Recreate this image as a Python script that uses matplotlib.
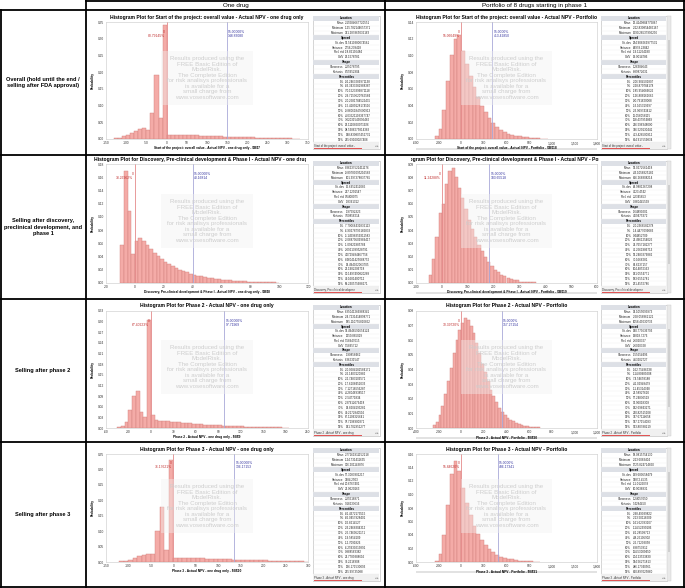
import numpy as np
import matplotlib.pyplot as plt
from matplotlib.patches import Rectangle
from matplotlib.ticker import FuncFormatter, FixedLocator

W, H = 685, 588
plt.rcParams['font.family'] = ['Liberation Sans', 'DejaVu Sans']

col_titles = ["One drug", "Portfolio of 8 drugs starting in phase 1"]
row_labels = ["Overall (hold until the end /\nselling after FDA approval)",
              "Selling after discovery,\npreclinical development, and\nphase 1",
              "Selling after phase 2",
              "Selling after phase 3"]

# ---- histogram data: first bin edge, bin width, probabilities ----
one_overall_start, one_overall_w = -130, 10
one_overall_p = [0.002, 0.004, 0.008, 0.012, 0.018, 0.024, 0.03, 0.033, 0.028, 0.077, 0.19, 0.062, 0.34,
                 0.012, 0.011, 0.011, 0.012, 0.012, 0.012, 0.011, 0.011, 0.01, 0.01, 0.009, 0.009, 0.008,
                 0.008, 0.007, 0.007, 0.006, 0.006, 0.006, 0.005, 0.005, 0.005, 0.004, 0.004, 0.004, 0.003,
                 0.003, 0.003, 0.002, 0.002, 0.002, 0.001, 0.001]

one_disc_start, one_disc_w = -10, 2.5
one_disc_p = [0.058, 0.17, 0.109, 0.044, 0.064, 0.068, 0.064, 0.057, 0.051, 0.046, 0.041, 0.036, 0.032,
              0.028, 0.025, 0.022, 0.02, 0.018, 0.016, 0.014, 0.012, 0.011, 0.01, 0.009, 0.008, 0.007,
              0.006, 0.0055, 0.005, 0.0045, 0.004, 0.0035, 0.003, 0.003, 0.0025, 0.002, 0.002, 0.0018,
              0.0015, 0.0012, 0.001, 0.001, 0.0008, 0.0006]

one_ph2_start, one_ph2_w = -45, 5
one_ph2_p = [0.003, 0.006, 0.017, 0.05, 0.089, 0.105, 0.045, 0.03, 0.305, 0.037, 0.022, 0.02, 0.019,
             0.019, 0.018, 0.017, 0.016, 0.015, 0.014, 0.013, 0.012, 0.011, 0.01, 0.0095, 0.009, 0.0085,
             0.008, 0.0075, 0.007, 0.0065, 0.006, 0.0055, 0.005, 0.0045, 0.004, 0.0035, 0.003, 0.003,
             0.0025, 0.0025, 0.002, 0.002, 0.0015, 0.0015, 0.001, 0.001]

one_ph3_start, one_ph3_w = -120, 10
one_ph3_p = [0.002, 0.004, 0.008, 0.013, 0.018, 0.023, 0.027, 0.026, 0.10, 0.178, 0.04, 0.33,
             0.013, 0.012, 0.012, 0.013, 0.013, 0.012, 0.012, 0.011, 0.011, 0.01, 0.01, 0.009, 0.009,
             0.008, 0.008, 0.007, 0.007, 0.006, 0.006, 0.005, 0.005, 0.004, 0.004, 0.003, 0.003, 0.003,
             0.002, 0.002, 0.002, 0.001]

port_overall_start, port_overall_w = -350, 50
port_overall_p = [0.003, 0.012, 0.035, 0.07, 0.1, 0.12, 0.125, 0.105, 0.09, 0.075, 0.062, 0.05, 0.04,
                  0.032, 0.025, 0.019, 0.014, 0.011, 0.008, 0.006, 0.005, 0.004, 0.003, 0.002, 0.002,
                  0.001, 0.001, 0.001, 0.0005, 0.0005]

port_disc_start, port_disc_w = -50, 12.5
port_disc_p = [0.006, 0.018, 0.035, 0.053, 0.06, 0.075, 0.085, 0.087, 0.08, 0.072, 0.064, 0.056, 0.048,
               0.041, 0.035, 0.029, 0.024, 0.02, 0.016, 0.013, 0.01, 0.008, 0.006, 0.005, 0.004, 0.003,
               0.002, 0.002, 0.001, 0.001, 0.0008, 0.0006, 0.0005]

port_ph2_start, port_ph2_w = -250, 25
port_ph2_p = [0.002, 0.004, 0.009, 0.015, 0.023, 0.032, 0.041, 0.051, 0.06, 0.067, 0.072, 0.075, 0.074,
              0.07, 0.065, 0.058, 0.051, 0.044, 0.038, 0.032, 0.026, 0.022, 0.018, 0.014, 0.011, 0.009,
              0.007, 0.0057, 0.0045, 0.0035, 0.0028, 0.0022, 0.0017, 0.0013, 0.001, 0.0008, 0.0006, 0.0005]

port_ph3_start, port_ph3_w = -350, 50
port_ph3_p = [0.002, 0.012, 0.04, 0.085, 0.13, 0.15, 0.135, 0.11, 0.088, 0.069, 0.054, 0.042, 0.032,
              0.025, 0.019, 0.015, 0.011, 0.008, 0.006, 0.005, 0.004, 0.003, 0.002, 0.0015, 0.001, 0.001,
              0.0007, 0.0005]

# red marker at 0 (share below) and blue marker at the 95th percentile
red_pct = ["80.79145%", "38.26962%", "67.40223%", "76.17621%",
           "55.06649%", "11.24288%", "30.39720%", "55.84620%"]
blue_val = [148.8308, 40.16814, 97.71969, 136.17153, 413.4285, 183.65518, 357.27154, 486.17341]
blue_pct = ["95.00000%"] * 4 + ["95.0000%"] * 4

titles = ["Histogram Plot for Start of the project: overall value - Actual NPV - one drug only",
          "Histogram Plot for Discovery, Pre-clinical development & Phase I - Actual NPV - one drug only",
          "Histogram Plot for Phase 2 - Actual NPV - one drug only",
          "Histogram Plot for Phase 3 - Actual NPV - one drug only",
          "Histogram Plot for Start of the project: overall value - Actual NPV - Portfolio",
          "Histogram Plot for Discovery, Pre-clinical development & Phase I - Actual NPV - Portfolio",
          "Histogram Plot for Phase 2 - Actual NPV - Portfolio",
          "Histogram Plot for Phase 3 - Actual NPV - Portfolio"]
xlabels = [r"Start of the project: overall value - Actual NPV - one drug only - \$B\$7",
           r"Discovery, Pre-clinical development & Phase I - Actual NPV - one drug only - \$B\$8",
           r"Phase 2 - Actual NPV - one drug only - \$B\$9",
           r"Phase 3 - Actual NPV - one drug only - \$B\$10",
           r"Start of the project: overall value - Actual NPV - Portfolio - \$B\$18",
           r"Discovery, Pre-clinical development & Phase I - Actual NPV - Portfolio - \$B\$19",
           r"Phase 2 - Actual NPV - Portfolio - \$B\$20",
           r"Phase 3 - Actual NPV - Portfolio - \$B\$21"]
tab_names = ["Start of the project: overall value -", "Discovery, Pre-clinical developme",
             "Phase 2 - Actual NPV - one drug", "Phase 3 - Actual NPV - one drug",
             "Start of the project: overall value -", "Discovery, Pre-clinical developme",
             "Phase 2 - Actual NPV - Portfolio", "Phase 3 - Actual NPV - Portfolio"]

x_ticks = [np.arange(-150, 351, 50), np.arange(-20, 121, 20), np.arange(-60, 211, 30), np.arange(-150, 301, 50),
           np.arange(-600, 1801, 300), np.arange(-100, 601, 100), np.arange(-400, 1201, 200), np.arange(-600, 1801, 300)]
y_ticks = [np.arange(0, 0.351, 0.05), np.arange(0, 0.181, 0.02), np.arange(0, 0.331, 0.03), np.arange(0, 0.351, 0.05),
           np.arange(0, 0.141, 0.02), np.arange(0, 0.091, 0.01), np.arange(0, 0.081, 0.01), np.arange(0, 0.161, 0.02)]

# statistics tables
stat_sections = [("Location", ["Mean", "Minimum", "Maximum"]),
                 ("Spread", ["St. dev", "Variance", "Rel. std", "CofV"]),
                 ("Shape", ["Skewness", "Kurtosis"]),
                 ("Percentiles", ["1%", "5%", "10%", "20%", "30%", "40%", "50%", "60%", "70%", "80%", "90%", "95%", "99%"])]

stats_one_overall = ["2.15584667720551", "-125.782144657371", "321.287865036163",
                     "51.5410380074561", "2756.239418", "-18.86196484", "26.1578781",
                     "2.25078795", "8.55952904",
                     "-92.2463289971138", "-83.3433282988387", "-70.1523396871118", "-29.7153620765584",
                     "-20.2581784522435", "-15.4189128174516", "-9.86061847600913", "-4.03521103367747",
                     "3.02031543095482", "26.1110850071926", "98.5386275814383", "148.830807452731",
                     "245.69100027408"]
stats_one_disc = ["8.36237522411176", "-9.89780095216583", "101.397378837785",
                  "15.6952412085", "217.1291547", "0.5408075", "1.8391312",
                  "1.97592323", "7.60856214",
                  "-7.70066431836113", "-6.90278793166833", "-5.14598359311583", "-3.08879509989417",
                  "-1.09921985784", "2.0921399528791", "4.0729484467756", "8.46041425088752",
                  "14.494022063705", "22.1982206718", "30.1497490820289", "40.1681400712", "69.230575688271"]
stats_one_ph2 = ["6.35041266988341", "-34.7231414898771", "185.110755810852",
                 "35.4948591654124", "1259.885029", "5.58947015", "5.5895712",
                 "1.90858462", "6.36531547",
                 "-30.0584182584171", "-26.1403120982", "-22.7483109571", "-17.6108452033",
                 "-7.12716556287", "-4.28046938517", "-2.54771834", "2.37912076418",
                 "14.8204193281", "40.2172840516", "67.1109325641", "97.7196900371", "141.702951277"]
stats_one_ph3 = ["2.77161911152218", "-124.731411635", "306.201143876",
                 "57.3083801217", "3284.2503", "20.6767401", "21.0620163",
                 "2.25516871", "9.18233616",
                 "-81.4372173515", "-66.0457928401", "-55.8214527", "-33.2468304312",
                 "-25.7460521171", "-19.5854109", "-12.7091826", "-6.25930213891",
                 "0.988563382", "21.7789388616", "79.2216908", "136.171530093", "225.99735088"]
stats_port_overall = ["13.4149884775867", "-312.830854485167", "1590.26537995296",
                      "254.908269977531", "64978.23842", "-19.11254180", "19.0014786",
                      "1.26384643", "6.89872031",
                      "-306.904501807", "-228.879784178", "-185.954066626", "-126.808161665",
                      "-90.791620008", "-53.165319997", "-33.969743412", "11.056058115",
                      "118.437954869", "216.596348000", "316.529130441", "413.428500912", "614.917559834"]
stats_port_disc = ["56.0272561418", "-43.1056825182", "616.266808214",
                   "64.9881267208", "4223.4542", "2.2345853", "0.860445539",
                   "1.64890201", "4.69475372",
                   "-30.2368582278", "-14.4477099083", "0.44852709", "21.4961254025",
                   "34.7657182277", "46.2561986713", "56.2483376882", "70.1666281",
                   "83.6237157", "104.4852163", "141.0554771", "183.6551781", "251.4552786"]
stats_port_ph2 = ["54.1055093973", "-258.058862121", "1058.49030733",
                  "140.779636793", "19818.7276", "2.6020327", "2.6020328",
                  "1.55654496", "4.53202727",
                  "-162.75486338", "-114.80989208", "-74.54658188", "-41.02949479",
                  "-11.45314348", "21.58927620", "57.24830519", "93.96018309",
                  "142.69843271", "210.82515108", "317.67114658", "357.27154093", "513.80788219"]
stats_port_ph3 = ["18.0815754130", "-313.6083404", "1725.824714850",
                  "199.680558479", "39872.4535", "-11.0126078", "10.9036831",
                  "1.24057050", "5.4284450",
                  "-298.49039822", "-213.50118209", "-161.62383107", "-114.52399106",
                  "-81.28509713", "-48.25105902", "-26.71203058", "6.98753812",
                  "114.53009450", "204.23523830", "394.56271813", "486.17340561", "620.897025860"]

WATERMARK = ("Results produced using the\nFREE Basic Edition of\nModelRisk.\nThe Complete Edition\n"
             "for risk analisys professionals\nis available for a\nsmall charge from\nwww.vosesoftware.com")

# ---- layout in pixels ----
ROWS = [(10, 155), (155, 299), (299, 442), (442, 587)]
AX_Y = [(22, 139), (164, 283), (311, 428), (454, 562)]
TITLE_Y = [17, 159, 306, 449]
AX_X = [(106, 308), (416, 597)]
TAB_X = [(313, 380), (601, 667)]
CLIP_X = [(90, 306), (411, 599)]


def px_axes(fig, x0, y0, x1, y1):
    return fig.add_axes([x0 / W, 1 - y1 / H, (x1 - x0) / W, (y1 - y0) / H])


def draw_hist(ax, start, width, probs, xt, yt, red, bval, bpct, xlabel, comma):
    edges = start + width * np.arange(len(probs))
    ax.bar(edges, probs, width=width, align='edge', color='#f4aba7', edgecolor='#cf7f7b', linewidth=0.3)
    ax.set_xlim(xt[0], xt[-1])
    ax.set_ylim(yt[0], yt[-1])
    ax.xaxis.set_major_locator(FixedLocator(xt))
    ax.yaxis.set_major_locator(FixedLocator(yt))
    if comma:
        ax.xaxis.set_major_formatter(FuncFormatter(lambda v, p: f"{v:,.0f}"))
    else:
        ax.xaxis.set_major_formatter(FuncFormatter(lambda v, p: f"{v:.0f}"))
    ax.yaxis.set_major_formatter(FuncFormatter(lambda v, p: f"{v:.2f}"))
    ax.tick_params(labelsize=2.3, length=0, pad=1.5, colors='#333333')
    for s in ax.spines.values():
        s.set_color('#c8c8c8')
        s.set_linewidth(0.4)
    ax.axvline(0, color='#e48a8a', lw=0.6)
    ax.axvline(bval, color='#a8a8d8', lw=0.6)
    ax.annotate("0\n" + red, xy=(0, 0.9), xycoords=('data', 'axes fraction'), xytext=(-1, 0),
                textcoords='offset points', ha='right', va='center', fontsize=2.4, color='#c03030',
                linespacing=1.0)
    ax.annotate(bpct + "\n" + f"{bval:.5f}", xy=(bval, 0.9), xycoords=('data', 'axes fraction'),
                xytext=(1, 0), textcoords='offset points', ha='left', va='center', fontsize=2.4,
                color='#3535a0', linespacing=1.0)
    ax.text(0.5, 0.52, WATERMARK, transform=ax.transAxes, ha='center', va='center', fontsize=4.4,
            color='#cdcdcd', linespacing=1.12, zorder=5,
            bbox=dict(fc='#f2f2f2', ec='none', alpha=0.4, pad=4))
    ax.set_ylabel("Probability", fontsize=2.3, weight='bold', labelpad=2)
    ax.set_xlabel(xlabel, fontsize=2.3, weight='bold', labelpad=1)


def draw_table(ov, x0, x1, y0, y1, vals, tab, scroll):
    n = sum(1 + len(labs) for _, labs in stat_sections)
    rh = (y1 - y0) / (n + 1.4)
    ov.add_patch(Rectangle((x0, y0), x1 - x0, y1 - y0, fc='white', ec='#b5b5b5', lw=0.4))
    xm = x0 + 0.47 * (x1 - x0)
    y = y0
    k = 0
    for name, labs in stat_sections:
        ov.add_patch(Rectangle((x0 + 0.5, y), x1 - x0 - 1, rh, fc='#dde0e6', ec='none'))
        ov.text((x0 + x1) / 2, y + rh / 2, name, ha='center', va='center', fontsize=2.2, weight='bold')
        y += rh
        for lab in labs:
            ov.text(xm - 0.8, y + rh / 2, lab, ha='right', va='center', fontsize=2.1, color='#222222')
            ov.text(xm + 0.8, y + rh / 2, vals[k], ha='left', va='center', fontsize=2.1, color='#222222')
            ov.plot([x0 + 0.5, x1 - 0.5], [y + rh, y + rh], color='#ececec', lw=0.3)
            k += 1
            y += rh
    fy = y1 - 0.7 * rh
    ov.add_patch(Rectangle((x0 + 0.5, y1 - 1.4 * rh), x1 - x0 - 1, 1.4 * rh, fc='#f0f0f0', ec='none'))
    ov.text(x0 + 1, fy, tab, ha='left', va='center', fontsize=2.0, color='#333333')
    ov.plot([x0 + 1, x0 + 0.72 * (x1 - x0)], [y1 - 0.6, y1 - 0.6], color='#e05050', lw=0.7)
    ov.text(x1 - 1, fy, "\u25c2 \u25b8", ha='right', va='center', fontsize=2.0, color='#777777')
    if scroll:
        ov.add_patch(Rectangle((x1, y0), 4, y1 - y0, fc='#e9e9e9', ec='#c8c8c8', lw=0.3))
        ov.add_patch(Rectangle((x1 + 0.8, y0 + 0.18 * (y1 - y0)), 2.4, 0.6 * (y1 - y0), fc='#cfcfcf', ec='none'))


panels = [
    (one_overall_start, one_overall_w, one_overall_p, stats_one_overall),
    (one_disc_start, one_disc_w, one_disc_p, stats_one_disc),
    (one_ph2_start, one_ph2_w, one_ph2_p, stats_one_ph2),
    (one_ph3_start, one_ph3_w, one_ph3_p, stats_one_ph3),
    (port_overall_start, port_overall_w, port_overall_p, stats_port_overall),
    (port_disc_start, port_disc_w, port_disc_p, stats_port_disc),
    (port_ph2_start, port_ph2_w, port_ph2_p, stats_port_ph2),
    (port_ph3_start, port_ph3_w, port_ph3_p, stats_port_ph3),
]

fig = plt.figure(figsize=(W / 100, H / 100), dpi=100)
ov = fig.add_axes([0, 0, 1, 1])
ov.set_xlim(0, W)
ov.set_ylim(H, 0)
ov.axis('off')

# grid of the table
lw = 1.3
ov.plot([86, 685], [0.7, 0.7], color='black', lw=lw)
for yy in [10, 155, 299, 442, 587]:
    ov.plot([0, 685], [yy, yy], color='black', lw=lw)
ov.plot([0.7, 0.7], [10, 587], color='black', lw=lw)
for xx in [86, 385, 684.3]:
    ov.plot([xx, xx], [0, 587], color='black', lw=lw)

ov.text((86 + 385) / 2, 5.5, col_titles[0], ha='center', va='center', fontsize=4.5)
ov.text((385 + 685) / 2, 5.5, col_titles[1], ha='center', va='center', fontsize=4.5)
for r, lab in enumerate(row_labels):
    ov.text(43, (ROWS[r][0] + ROWS[r][1]) / 2, lab, ha='center', va='center', fontsize=4.1,
            weight='bold', linespacing=1.3)

for i, (start, width, probs, stats) in enumerate(panels):
    c, r = i // 4, i % 4
    ax = px_axes(fig, AX_X[c][0], AX_Y[r][0], AX_X[c][1], AX_Y[r][1])
    draw_hist(ax, start, width, probs, x_ticks[i], y_ticks[i], red_pct[i], blue_val[i], blue_pct[i],
              xlabels[i], c == 1)
    # title clipped to the chart window
    tax = px_axes(fig, CLIP_X[c][0], TITLE_Y[r] - 4, CLIP_X[c][1], TITLE_Y[r] + 4)
    tax.axis('off')
    xc = ((AX_X[c][0] + AX_X[c][1]) / 2 - CLIP_X[c][0]) / (CLIP_X[c][1] - CLIP_X[c][0])
    tax.text(xc, 0.5, titles[i], transform=tax.transAxes, ha='center', va='center',
             fontsize=3.6, weight='bold', clip_on=True)
    draw_table(ov, TAB_X[c][0], TAB_X[c][1], ROWS[r][0] + 6, ROWS[r][1] - 6, stats, tab_names[i], c == 1)
    if c == 1:
        ov.add_patch(Rectangle((AX_X[c][0], AX_Y[r][1] + 9), AX_X[c][1] - AX_X[c][0], 1.8,
                               fc='#e2e2e2', ec='none'))

fig.savefig("out.png", dpi=100)
